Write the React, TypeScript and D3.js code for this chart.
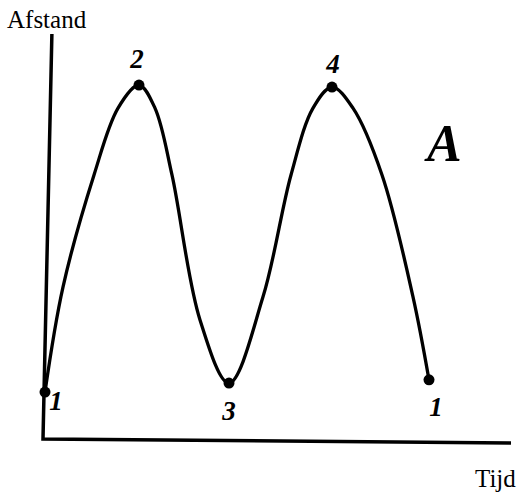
import React from 'react';
import * as d3 from 'd3';

const width = 521;
const height = 495;

// curve: time (0..10) vs distance (0..10)
const timeValues = [
  0.043, 0.427, 1.090, 1.603, 2.051, 2.393, 2.756, 3.355, 3.974,
  4.701, 5.299, 5.769, 6.175, 6.624, 7.244, 7.906, 8.248];
const distanceValues = [
  1.16, 3.75, 6.52, 8.17, 8.74, 8.17, 6.52, 2.94, 1.38,
  3.51, 6.52, 8.17, 8.69, 8.17, 6.52, 3.51, 1.46];

// marked states along the curve
const markedIndex = [0, 4, 8, 12, 16];
const markedLabels = ['1', '2', '3', '4', '1'];
const labelOffsets = [[11, 18], [-2, -17], [0, 37], [1, -14], [7, 36]];

const xLabel = 'Tijd';
const yLabel = 'Afstand';
const title = 'A';

const xScale = d3.scaleLinear().domain([0, 10]).range([43, 511]);
const yScale = d3.scaleLinear().domain([0, 10]).range([439, 34]);

export default function App() {
  const points = timeValues.map((t, i) => [t, distanceValues[i]] as [number, number]);

  const line = d3.line<[number, number]>()
    .x(d => xScale(d[0]))
    .y(d => yScale(d[1]))
    .curve(d3.curveCatmullRom.alpha(0.5));

  // axes are hand drawn: the vertical one leans a little
  const axisLine = d3.line<[number, number]>()
    .x(d => xScale(d[0]))
    .y(d => yScale(d[1]));
  const axisPoints: [number, number][] = [[0.19, 10], [0, 0], [10, -0.1]];

  const serif = '"Liberation Serif", "Times New Roman", serif';

  return (
    <svg width={width} height={height} style={{ position: 'absolute', left: 0, top: 0, background: '#fff' }}>
      <path d={axisLine(axisPoints) || ''} fill="none" stroke="#000" strokeWidth={3.5} strokeLinejoin="miter" />
      <path d={line(points) || ''} fill="none" stroke="#000" strokeWidth={3.3} />
      {markedIndex.map((idx, i) => {
        const cx = xScale(timeValues[idx]);
        const cy = yScale(distanceValues[idx]);
        return (
          <g key={i}>
            <circle cx={cx} cy={cy} r={5.5} fill="#000" />
            <text x={cx + labelOffsets[i][0]} y={cy + labelOffsets[i][1]} textAnchor="middle"
              fontFamily={serif} fontWeight="bold" fontStyle="italic" fontSize={27}>
              {markedLabels[i]}
            </text>
          </g>
        );
      })}
      <text x={7} y={28} fontFamily={serif} fontSize={25}>{yLabel}</text>
      <text x={475} y={487} fontFamily={serif} fontSize={25}>{xLabel}</text>
      <text x={427} y={161} fontFamily={serif} fontWeight="bold" fontStyle="italic" fontSize={52}>{title}</text>
    </svg>
  );
}
